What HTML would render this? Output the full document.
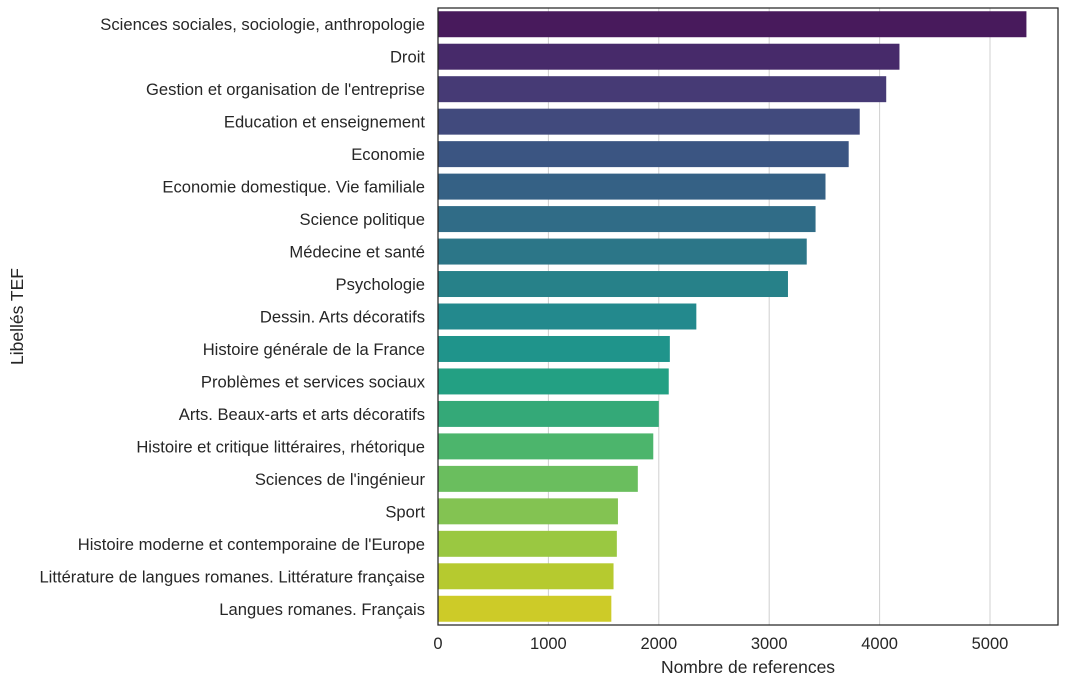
<!DOCTYPE html>
<html><head><meta charset="utf-8"><style>
body{margin:0;background:#fff;}
svg{font-family:"Liberation Sans","DejaVu Sans",sans-serif;}
</style></head><body>
<svg id="chart" width="1067" height="687"></svg>
<script>
const categories=["Sciences sociales, sociologie, anthropologie","Droit","Gestion et organisation de l'entreprise","Education et enseignement","Economie","Economie domestique. Vie familiale","Science politique","Médecine et santé","Psychologie","Dessin. Arts décoratifs","Histoire générale de la France","Problèmes et services sociaux","Arts. Beaux-arts et arts décoratifs","Histoire et critique littéraires, rhétorique","Sciences de l'ingénieur","Sport","Histoire moderne et contemporaine de l'Europe","Littérature de langues romanes. Littérature française","Langues romanes. Français"];
const values=[5330,4180,4060,3820,3720,3510,3420,3340,3170,2340,2100,2090,2000,1950,1810,1630,1620,1590,1570];
const tickLabels=[0,1000,2000,3000,4000,5000];
const colors=["#481a5c","#472a6a","#463a75","#414a7d","#3b5582","#356185","#306c87","#2c7688","#278189","#23898d","#1f948b","#23a083","#34a978","#4cb56c","#6abe5e","#83c352","#9ac841","#b6ca2f","#cdcb28"];
const NS="http://www.w3.org/2000/svg";
const svg=document.getElementById('chart');
const L=438,R=1058,T=8,B=625,xmax=5616;
const x=v=>L+v/xmax*(R-L);
const band=(B-T)/categories.length;
const y=i=>T+i*band;
function mk(t,a){const e=document.createElementNS(NS,t);for(const k in a)e.setAttribute(k,a[k]);svg.appendChild(e);return e;}
tickLabels.forEach(t=>{
 const g=mk('line',{x1:x(t),x2:x(t),y1:T,y2:B,stroke:'#d0d0d0','stroke-width':1});
 
 
 const tx=mk('text',{x:x(t),y:B+24,'text-anchor':'middle','font-size':16.5,fill:'#262626'});
 tx.textContent=t;
 
 
});
categories.forEach((c,i)=>{
 const r=mk('rect',{x:x(0),y:y(i)+band*0.1,width:x(values[i])-x(0),height:band*0.8,fill:colors[i]});
 
 
 const tx=mk('text',{x:L-13,y:y(i)+band/2+6,'text-anchor':'end','font-size':16.6,fill:'#262626'});
 tx.textContent=c;
 
 
});
const fr=mk('rect',{x:L,y:T,width:R-L,height:B-T,fill:'none',stroke:'#262626','stroke-width':1.25});


const xt=mk('text',{x:(L+R)/2,y:673,'text-anchor':'middle','font-size':17.5,fill:'#262626'});
xt.textContent='Nombre de references';


const yt=mk('text',{x:0,y:0,'text-anchor':'middle','font-size':17.5,fill:'#262626',transform:'translate(23,'+((T+B)/2)+') rotate(-90)'});
yt.textContent='Libellés TEF';


</script>
</body></html>
